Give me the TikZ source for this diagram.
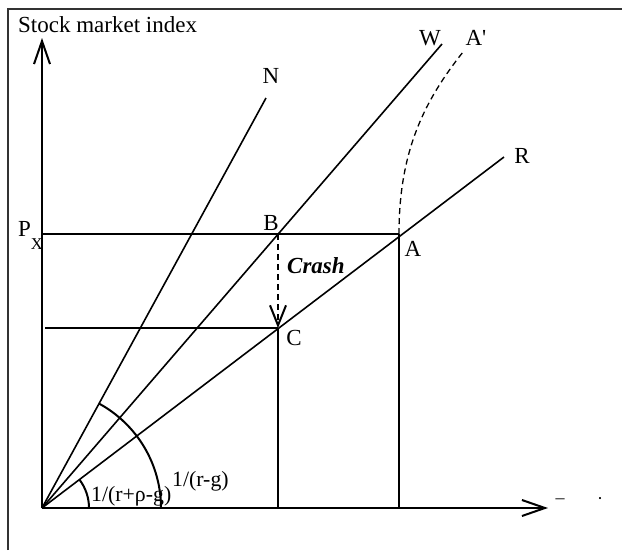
\documentclass[tikz,border=0pt]{standalone}
\usepackage{fontspec}
\setmainfont{Liberation Serif}
\usetikzlibrary{arrows.meta}
\begin{document}
\begin{tikzpicture}[x=1pt,y=-1pt,
  ln/.style={line width=1.6pt},
  ax/.style={line width=2pt},
  openarr/.style={-{Straight Barb[length=23pt,width=16pt,line width=2pt]}},
  lbl/.style={font=\fontsize{23}{27}\selectfont, inner sep=0pt, anchor=base},
  sml/.style={font=\fontsize{21.8}{25}\selectfont, inner sep=0pt, anchor=base west},
  dsh/.style={dash pattern=on 6pt off 4pt, line width=1.6pt}]
\useasboundingbox (0,0) rectangle (622,550);
% frame
\coordinate (FL) at (8,550);
\coordinate (FT) at (8,9);
\coordinate (FR) at (622,9);
\draw[line width=1.6pt, black!80] (FL) -- (FT) -- (FR);
% key points
\coordinate (O) at (42,508);
\coordinate (Ytop) at (42,38);
\coordinate (Xend) at (548,508);
\coordinate (Nend) at (266,98);
\coordinate (Wend) at (442,44);
\coordinate (Rend) at (504,157);
\coordinate (B) at (278,234);
\coordinate (A) at (399,234);
\coordinate (C) at (278,328);
\coordinate (Ap) at (463,52);
\coordinate (Px) at (42,234);
\coordinate (Ls) at (45,328);
\coordinate (Cb) at (278,508);
\coordinate (Ab) at (399,508);
% axes
\draw[ax,openarr] (O) -- (Ytop);
\draw[ax,openarr] (O) -- (Xend);
% rays
\draw[ln] (O) -- (Nend);
\draw[ln] (O) -- (Wend);
\draw[ln] (O) -- (Rend);
% guide lines
\draw[ln] (Px) -- (A);
\draw[ln] (Ls) -- (C);
\draw[ln] (C) -- (Cb);
\draw[ln] (A) -- (Ab);
% crash arrow
\draw[dsh,-{Straight Barb[length=20pt,width=16pt,line width=2pt]}] (B) -- (C);
% dashed curve A to A'
\draw[dsh, line width=1.3pt] (A) .. controls (399,150) and (425,100) .. (Ap);
% arcs
\draw[line width=2pt] (O) ++(119pt,0pt) arc[start angle=0,end angle=61.3,radius=119pt];
\draw[line width=2pt] (O) ++(47pt,0pt) arc[start angle=0,end angle=37.3,radius=47pt];
% labels
\node[lbl, anchor=base west] (title) at (18,32) {Stock market index};
\node[lbl] (lN) at (271,83) {N};
\node[lbl] (lW) at (430,45) {W};
\node[lbl] (lAp) at (476,45) {A\textquotesingle};
\node[lbl] (lR) at (522,163) {R};
\node[lbl] (lB) at (271,230) {B};
\node[lbl] (lA) at (413,256) {A};
\node[lbl] (lC) at (294,345) {C};
\node[lbl, anchor=base west] (lCrash) at (287,273) {\textbf{\textit{Crash}}};
\node[lbl, anchor=base west] (lPx) at (18,236) {P\raisebox{-13pt}{\fontsize{16.5}{18}\selectfont X}};
\node[sml] (l1) at (91,501) {1/(r+ρ-g)};
\node[sml] (l2) at (172,486) {1/(r-g)};
\node[font=\fontsize{18}{20}\selectfont, inner sep=0pt] (m1) at (560,501) {–};
\node[font=\fontsize{18}{20}\selectfont, inner sep=0pt] (m2) at (600,501) {·};
\end{tikzpicture}
\end{document}
